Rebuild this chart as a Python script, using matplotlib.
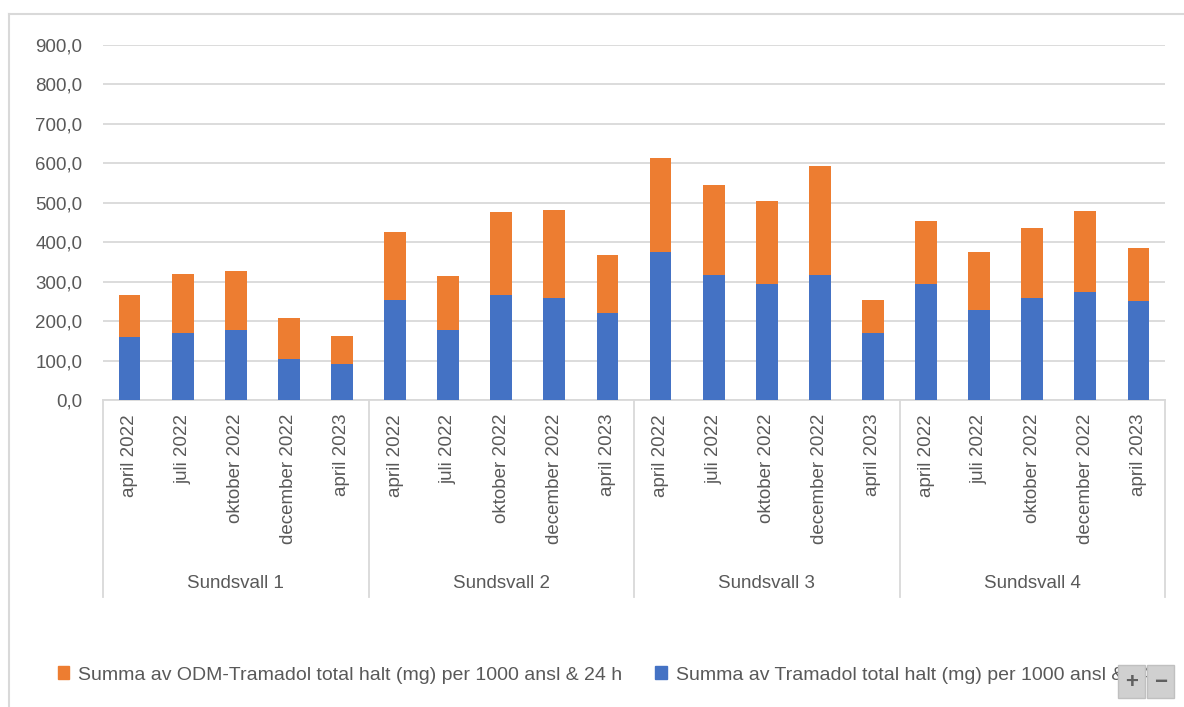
import numpy as np
import matplotlib.pyplot as plt
from matplotlib.patches import Patch, Rectangle
from matplotlib.lines import Line2D
from matplotlib.ticker import FuncFormatter
import matplotlib.transforms as mtransforms

plt.rcParams['font.family'] = ['Liberation Sans', 'DejaVu Sans']

# data
groups = ['Sundsvall 1', 'Sundsvall 2', 'Sundsvall 3', 'Sundsvall 4']
months = ['april 2022', 'juli 2022', 'oktober 2022', 'december 2022', 'april 2023']
tramadol = [159, 171, 177, 103, 92,
            253, 177, 267, 259, 221,
            376, 317, 294, 317, 171,
            294, 229, 259, 273, 250]
odm_tramadol = [106, 149, 149, 105, 70,
                172, 137, 209, 222, 146,
                237, 229, 210, 276, 82,
                161, 147, 178, 206, 135]
label_odm = 'Summa av ODM-Tramadol total halt (mg) per 1000 ansl & 24 h'
label_tram = 'Summa av Tramadol total halt (mg) per 1000 ansl & 24 h'

blue = '#4472C4'
orange = '#ED7D31'
txt = '#595959'
grid = '#D9D9D9'
fs = 13.5

W, H = 1184, 707
fig = plt.figure(figsize=(W / 100, H / 100), dpi=100)
ax = fig.add_axes([103 / W, 1 - 400 / H, (1165 - 103) / W, (400 - 45) / H])

labels = months * len(groups)
x = np.arange(len(labels))
ax.bar(x, tramadol, width=0.41, color=blue, zorder=3)
ax.bar(x, odm_tramadol, width=0.41, bottom=tramadol, color=orange, zorder=3)

ax.set_xlim(-0.5, len(labels) - 0.5)
ax.set_ylim(0, 900)
ax.set_yticks(np.arange(0, 901, 100))
ax.yaxis.set_major_formatter(FuncFormatter(lambda v, p: f'{v:.1f}'.replace('.', ',')))
ax.grid(axis='y', color=grid, linewidth=1.3, zorder=0)
for s in ['top', 'right', 'left']:
    ax.spines[s].set_visible(False)
ax.spines['bottom'].set_color(grid)
ax.spines['bottom'].set_linewidth(1.3)
ax.tick_params(axis='y', length=0, labelsize=fs, labelcolor=txt, pad=15)
ax.set_xticks(x)
ax.set_xticklabels(labels, rotation=90, fontsize=fs, color=txt, va='top')
ax.tick_params(axis='x', length=0, pad=10)

# group separators and labels
trans = mtransforms.blended_transform_factory(ax.transData, ax.transAxes)
y_bot = -(597 - 400) / (400 - 45)
n = len(months)
for k in range(len(groups) + 1):
    xs = k * n - 0.5
    ax.plot([xs, xs], [0, y_bot], transform=trans, color=grid, lw=1.3, clip_on=False)
for k, g in enumerate(groups):
    ax.text(k * n + (n - 1) / 2, -(583 - 400) / (400 - 45), g, transform=trans,
            ha='center', va='center', fontsize=fs, color=txt)

# legend
handles = [Patch(color=orange), Patch(color=blue)]
fig.legend(handles, [label_odm, label_tram], loc='center left',
           bbox_to_anchor=(40 / W, 1 - 675 / H), ncol=2, frameon=False,
           fontsize=14, labelcolor=txt, handlelength=0.6, handleheight=0.6,
           handletextpad=0.45, columnspacing=1.7)

# chart border
fig.add_artist(Line2D([9 / W, 1], [1 - 14 / H, 1 - 14 / H], color=grid, lw=1.5))
fig.add_artist(Line2D([9 / W, 9 / W], [0, 1 - 14 / H], color=grid, lw=1.5))

# zoom buttons
for i, sym in enumerate(['+', '\u2212']):
    x0 = (1118 + i * 29) / W
    fig.add_artist(Rectangle((x0, 1 - 698 / H), 27 / W, 33 / H, transform=fig.transFigure,
                             facecolor='#D0D0D0', edgecolor='#C0C0C0', zorder=10))
    fig.text(x0 + 13.5 / W, 1 - 683 / H, sym, ha='center', va='center', fontsize=16,
             color='#606060', zorder=11, fontweight='bold')

fig.savefig('out.png', dpi=100)
